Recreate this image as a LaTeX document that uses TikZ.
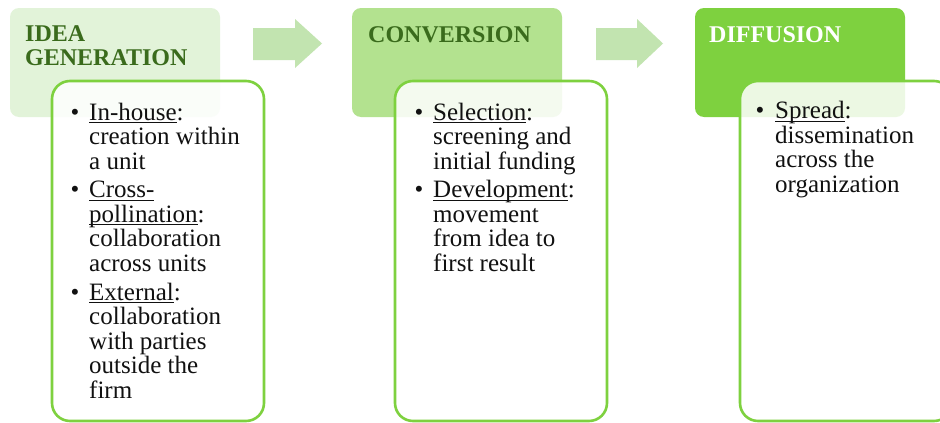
\documentclass[tikz,border=0pt]{standalone}
\usepackage{fontspec}
\setmainfont{Liberation Serif}
\newsavebox\uwbox
\newcommand{\uw}[1]{\sbox\uwbox{#1}\rlap{\rule[-3.2pt]{\wd\uwbox}{1.1pt}}\usebox\uwbox}
\definecolor{hone}{HTML}{E2F3D9}
\definecolor{htwo}{HTML}{B3E28F}
\definecolor{hthree}{HTML}{7ED13F}
\definecolor{arrowfill}{HTML}{C2E4B0}
\definecolor{bordergreen}{HTML}{7ED13F}
\definecolor{titlegreen}{HTML}{3A6B1C}
\definecolor{bodyink}{HTML}{111111}
\tikzset{
  header/.style={rounded corners=9pt},
  bodybox/.style={draw=bordergreen, line width=2.6pt, fill=white, fill opacity=0.86, rounded corners=18pt},
  flowarrow/.style={fill=arrowfill, draw=none},
  titletext/.style={anchor=base west, inner sep=0pt, align=left, font=\fontsize{24}{23.5}\selectfont\bfseries},
  itemtext/.style={anchor=base west, inner sep=0pt, align=left, text=bodyink, font=\fontsize{25}{24.6}\selectfont},
  bullettext/.style={anchor=base west, inner sep=0pt, text=bodyink, font=\fontsize{25}{24.6}\selectfont},
}
\begin{document}
\begin{tikzpicture}[x=1pt,y=-1pt]
\useasboundingbox (0,0) rectangle (940,423);
\clip (0,0) rectangle (940,423);
\fill[white] (0,0) rectangle (940,423);
% headers
\fill[hone, header] (10,8) rectangle (220,117);
\fill[htwo, header] (352,8) rectangle (562,117);
\fill[hthree, header] (695,8) rectangle (905,117);
\node[titletext, text=titlegreen] (t1) at (25,65) {IDEA\\GENERATION};
\node[titletext, text=titlegreen] (t2) at (368,42) {CONVERSION};
\node[titletext, text=white] (t3) at (709,42) {DIFFUSION};
% arrows
\fill[flowarrow] (253,28) -- (295,28) -- (295,19) -- (322,43.5) -- (295,68) -- (295,60) -- (253,60) -- cycle;
\fill[flowarrow] (596,28) -- (637,28) -- (637,19) -- (663,43.5) -- (637,68) -- (637,60) -- (596,60) -- cycle;
% body boxes
\draw[bodybox] (52,81) rectangle (264,421);
\draw[bodybox] (395,81) rectangle (607,421);
\draw[bodybox] (740,81) rectangle (952,421);
% body 1 (anchor at the baseline of the last line)
\node[bullettext] (b11) at (70.5,120) {•};
\node[itemtext] (i11) at (89,169.2) {\uw{In-house}:\\creation within\\a unit};
\node[bullettext] (b12) at (70.5,197.5) {•};
\node[itemtext] (i12) at (89,271.3) {\uw{Cross-}\\\uw{pollination}:\\collaboration\\across units};
\node[bullettext] (b13) at (70.5,300) {•};
\node[itemtext] (i13) at (89,398.4) {\uw{External}:\\collaboration\\with parties\\outside the\\firm};
% body 2
\node[bullettext] (b21) at (414.5,120) {•};
\node[itemtext] (i21) at (433,169.2) {\uw{Selection}:\\screening and\\initial funding};
\node[bullettext] (b22) at (414.5,197.5) {•};
\node[itemtext] (i22) at (433,271.3) {\uw{Development}:\\movement\\from idea to\\first result};
% body 3
\node[bullettext] (b31) at (755.5,118.5) {•};
\node[itemtext] (i31) at (775,192.3) {\uw{Spread}:\\dissemination\\across the\\organization};
\end{tikzpicture}
\end{document}
